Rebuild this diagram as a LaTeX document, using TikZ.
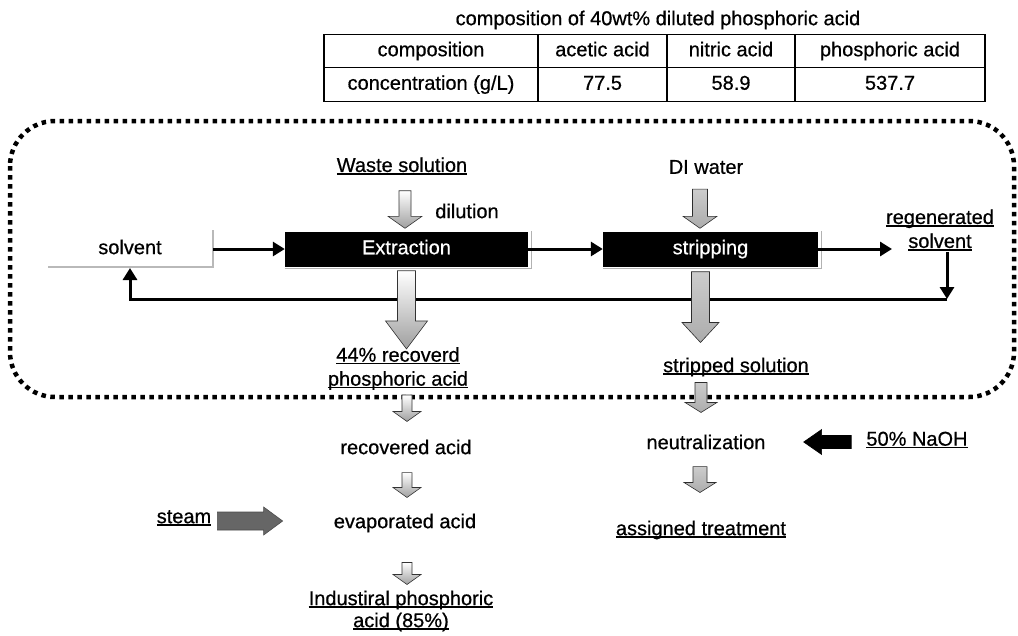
\documentclass[tikz,border=0pt]{standalone}
\usepackage{fontspec}
\setmainfont{Liberation Sans}[FakeBold=0.6]
\usetikzlibrary{arrows.meta,calc}
\newcommand\ulx[1]{\setbox0\hbox{#1}\rlap{\rule[-2.6pt]{\wd0}{1.4pt}}\box0}
% #1 style, #2 from, #3 to, #4 shaft half width, #5 head half width, #6 head length
\newcommand\fatdown[6][]{%
  \path[#1] let \p1=(#2), \p2=(#3) in
    (\x1-#4,\y1) -- (\x1+#4,\y1) -- (\x1+#4,\y2+#6) -- (\x1+#5,\y2+#6) -- (\x1,\y2)
    -- (\x1-#5,\y2+#6) -- (\x1-#4,\y2+#6) -- cycle;}
\newcommand\fatright[6][]{%
  \path[#1] let \p1=(#2), \p2=(#3) in
    (\x1,\y1-#4) -- (\x2-#6,\y1-#4) -- (\x2-#6,\y1-#5) -- (\x2,\y1) -- (\x2-#6,\y1+#5)
    -- (\x2-#6,\y1+#4) -- (\x1,\y1+#4) -- cycle;}
\newcommand\fatleft[6][]{%
  \path[#1] let \p1=(#2), \p2=(#3) in
    (\x1,\y1-#4) -- (\x2+#6,\y1-#4) -- (\x2+#6,\y1-#5) -- (\x2,\y1) -- (\x2+#6,\y1+#5)
    -- (\x2+#6,\y1+#4) -- (\x1,\y1+#4) -- cycle;}
\begin{document}
\begin{tikzpicture}[x=1pt,y=-1pt,
  txt/.style={font=\fontsize{20}{24}\selectfont, inner sep=1pt, align=center},
  tab/.style={draw, line width=1.2pt, font=\fontsize{20}{24}\selectfont, inner sep=0pt,
    minimum height=33.5pt, text height=14.5pt, text depth=4pt},
  proc/.style={fill=black, text=white, font=\fontsize{20}{24}\selectfont, minimum height=35pt,
    inner sep=0pt, text height=14.5pt, text depth=4pt},
  flow/.style={line width=3pt, -{Triangle[length=12pt,width=14pt]}},
  fatgray/.style={top color=gray!40, bottom color=gray!65, draw=gray!35!black, line width=0.6pt},
  fatdark/.style={fill=black!60, draw=black!70, line width=0.6pt},
  fatlight/.style={top color=white, bottom color=gray!75, draw=gray!40!black, line width=0.6pt},
  fatblack/.style={fill=black, draw=black, line width=0.6pt},
  frame/.style={line width=4.5pt, dash pattern=on 4.5pt off 4.5pt, rounded corners=45pt},
  shadowline/.style={gray!60, line width=1.2pt}
]
\fill[white] (0,0) rectangle (1018,635);
\useasboundingbox (0,0) rectangle (1018,635);

% title and table
\node[txt] (title) at (658,20) {composition of 40wt\% diluted phosphoric acid};
\node[tab, minimum width=214pt] (h0) at (431,51) {composition};
\node[tab, minimum width=129pt] (h1) at (602.5,51) {acetic acid};
\node[tab, minimum width=128pt] (h2) at (731,51) {nitric acid};
\node[tab, minimum width=190pt] (h3) at (890,51) {phosphoric acid};
\node[tab, minimum width=214pt] (r0) at (431,84.5) {concentration (g/L)};
\node[tab, minimum width=129pt] (r1) at (602.5,84.5) {77.5};
\node[tab, minimum width=128pt] (r2) at (731,84.5) {58.9};
\node[tab, minimum width=190pt] (r3) at (890,84.5) {537.7};

% dotted frame
\draw[frame] (10,121) rectangle (1014,397);

% process boxes
\node[proc, minimum width=243pt] (ext) at (406.5,249) {Extraction};
\node[proc, minimum width=215pt] (str) at (710.5,249) {stripping};
\draw[shadowline] ($(ext.south west)+(0,2)$) -- ($(ext.south east)+(3,2)$) -- ($(ext.north east)+(3,0)$);
\draw[shadowline] ($(str.south west)+(0,2)$) -- ($(str.south east)+(3,2)$) -- ($(str.north east)+(3,0)$);

% text nodes
\node[txt] (waste) at (402,166) {\ulx{Waste solution}};
\node[txt] (dil) at (467,211) {dilution};
\node[txt] (di) at (706,167) {DI water};
\node[txt] (solv) at (130,247) {solvent};
\node[txt] (regen) at (940,230) {\ulx{regenerated}\\\ulx{solvent}};
\node[txt] (rec44) at (398,368.5) {\ulx{44\% recoverd}\\\ulx{phosphoric acid}};
\node[txt] (strp) at (736,367) {\ulx{stripped solution}};
\node[txt] (reca) at (406,447) {recovered acid};
\node[txt] (evap) at (405,523) {evaporated acid};
\node[txt, font=\fontsize{20}{22}\selectfont] (ind) at (401,611) {\ulx{Industiral phosphoric}\\\ulx{acid (85\%)}};
\node[txt] (steam) at (184,518) {\ulx{steam}};
\node[txt] (neut) at (706,442) {neutralization};
\node[txt] (naoh) at (917,440) {\ulx{50\% NaOH}};
\node[txt] (assig) at (701,530) {\ulx{assigned treatment}};

% solvent loop
\coordinate (sbL) at (48,267);
\coordinate (sbC) at (213,267);
\coordinate (sbT) at (213,230);
\coordinate (sbM) at (213,249);
\coordinate (rin) at (892,249);
\coordinate (rc) at (947,299);
\coordinate (ret) at (130,268);
\draw[gray!55, line width=1.6pt] (sbL) -- (sbC) -- (sbT);
\draw[flow] (sbM) -- (ext.west);
\draw[flow] (ext.east) -- (str.west);
\draw[flow] (str.east) -- (rin);
\draw[flow] (regen.south -| rc) -- (rc);
\draw[flow] (rc) -- (ret |- rc) -- (ret);

% block arrows
\fatdown[fatlight]{$(waste.south)+(3,15)$}{$(ext.north)+(0,-3)$}{6}{17}{12}
\fatdown[fatlight]{$(ext.south)+(0,4)$}{$(rec44.north)+(0,3)$}{9}{21}{28}
\fatdown[fatgray]{$(di.south)+(-6,14)$}{$(str.north)+(0,-3)$}{7.5}{17}{12}
\fatdown[fatgray]{$(str.south)+(-10,5)$}{$(strp.north)+(0,-14)$}{9}{18.5}{20}
\fatdown[fatgray]{$(strp.south)+(-35,5)$}{$(neut.north)+(0,-21)$}{6}{16}{10}
\fatdown[fatgray]{$(neut.south)+(-6,16)$}{$(assig.north)+(0,-27)$}{7}{16}{10}
\fatleft[fatblack]{$(naoh.west)+(-14,2)$}{$(neut.east)+(37,0)$}{6.5}{12.5}{18}
\fatright[fatdark]{$(steam.east)+(5,3)$}{$(evap.west)+(-50,0)$}{9}{14}{19}
\fatdown[fatlight]{$(rec44.south)+(9,4)$}{$(reca.north)+(0,-17)$}{5}{14}{10}
\fatdown[fatlight]{$(reca.south)+(1,17)$}{$(evap.north)+(0,-15)$}{5}{14}{10}
\fatdown[fatlight]{$(evap.south)+(2,29)$}{$(ind.north)+(0,-5)$}{5}{14}{10}
\end{tikzpicture}
\end{document}
